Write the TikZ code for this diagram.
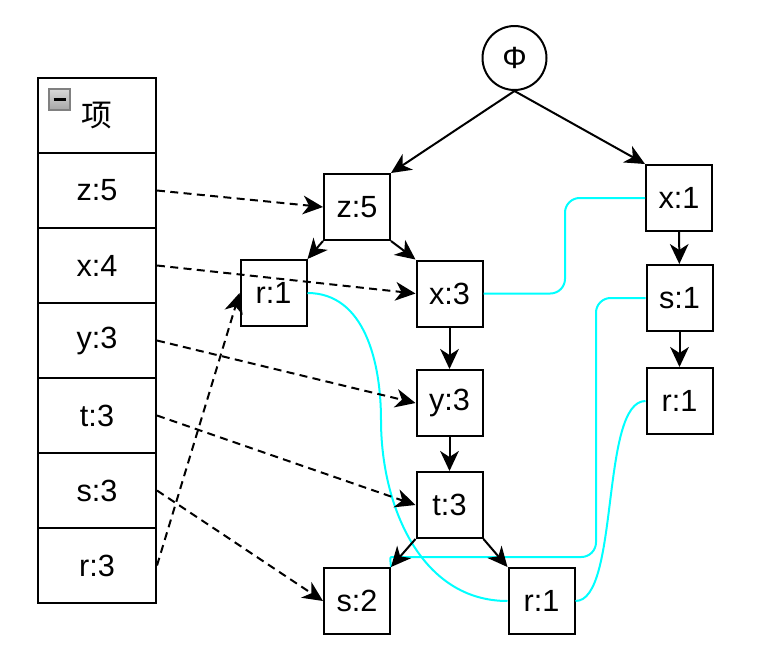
\documentclass[tikz,border=0pt]{standalone}
\usepackage{fontspec}
\setmainfont{Liberation Sans}
\newfontfamily\cjk{Noto Sans CJK SC}
\usetikzlibrary{arrows.meta}
\definecolor{linkcol}{HTML}{00FFFF}

\tikzset{
  item/.style={draw, line width=1.5pt, minimum size=49.5pt, inner sep=0pt, font=\fontsize{23}{27}\selectfont},
  cell/.style={draw, line width=1.5pt, minimum width=88.5pt, minimum height=56.25pt, inner sep=0pt, font=\fontsize{23}{27}\selectfont},
  edge/.style={line width=1.5pt, -{Stealth[length=15pt,width=14pt,inset=4.5pt]}},
  ptr/.style={edge, dash pattern=on 6pt off 4pt},
  link/.style={linkcol, line width=1.5pt}
}

\begin{document}
\begin{tikzpicture}[x=0.75pt, y=-0.75pt]
  \useasboundingbox (0,0) rectangle (758,669);

  \node[cell] (hdr) at (97,115) {\cjk 项};
  \node[cell] (tz) at (97,190.5) {z:5};
  \node[cell] (tx) at (97,265.5) {x:4};
  \node[cell] (ty) at (97,340.5) {y:3};
  \node[cell] (tt) at (97,415.5) {t:3};
  \node[cell] (ts) at (97,490.5) {s:3};
  \node[cell] (tr) at (97,565.5) {r:3};
  \shade[top color=gray!30, bottom color=gray!70, draw=gray, line width=0.8pt] (49,89) rectangle (70,110);
  \draw[line width=2pt] (53.5,99.5) -- (65.5,99.5);

  \node[draw, circle, line width=1.5pt, minimum size=48pt, inner sep=0pt,
        font=\fontsize{23}{27}\selectfont] (phi) at (514.5,58) {Φ};

  \node[item] (z5) at (357,207) {z:5};
  \node[item] (r1a) at (273.5,293) {r:1};
  \node[item] (x3) at (449.5,293.5) {x:3};
  \node[item] (y3) at (449.5,403) {y:3};
  \node[item] (t3) at (449.5,505) {t:3};
  \node[item] (s2) at (357,601) {s:2};
  \node[item] (r1b) at (541.5,601) {r:1};
  \node[item] (x1) at (679,198) {x:1};
  \node[item] (s1) at (679.5,298) {s:1};
  \node[item] (r1c) at (679.5,401) {r:1};

  \draw[link, rounded corners=11pt] (x3.east) -- (565,293.5) -- (565,198) -- (x1.west);
  \draw[link] (r1a.east) to[out=0, in=90] (381,420) to[out=-90, in=180] (r1b.west);
  \draw[link, rounded corners=11pt] (s2.north east) .. controls (390,557) .. (406,557) -- (596,557) -- (596,298) -- (s1.west);
  \draw[link] (r1b.east) .. controls (620,601) and (600,401) .. (r1c.west);

  \draw[edge] (phi.south) -- (z5.north east);
  \draw[edge] (phi.south) -- (x1.north west);
  \draw[edge] (z5.south west) -- (r1a.north east);
  \draw[edge] (z5.south east) -- (x3.north west);
  \draw[edge] (x3) -- (y3);
  \draw[edge] (y3) -- (t3);
  \draw[edge] (t3.south west) -- (s2.north east);
  \draw[edge] (t3.south east) -- (r1b.north west);
  \draw[edge] (x1) -- (s1);
  \draw[edge] (s1) -- (r1c);

  \draw[ptr] (tz.east) -- (z5.west);
  \draw[ptr] (tx.east) -- (x3.west);
  \draw[ptr] (ty.east) -- (y3.west);
  \draw[ptr] (tt.east) -- (t3.west);
  \draw[ptr] (ts.east) -- (s2.west);
  \draw[ptr] (tr.east) -- (r1a.west);
\end{tikzpicture}
\end{document}
